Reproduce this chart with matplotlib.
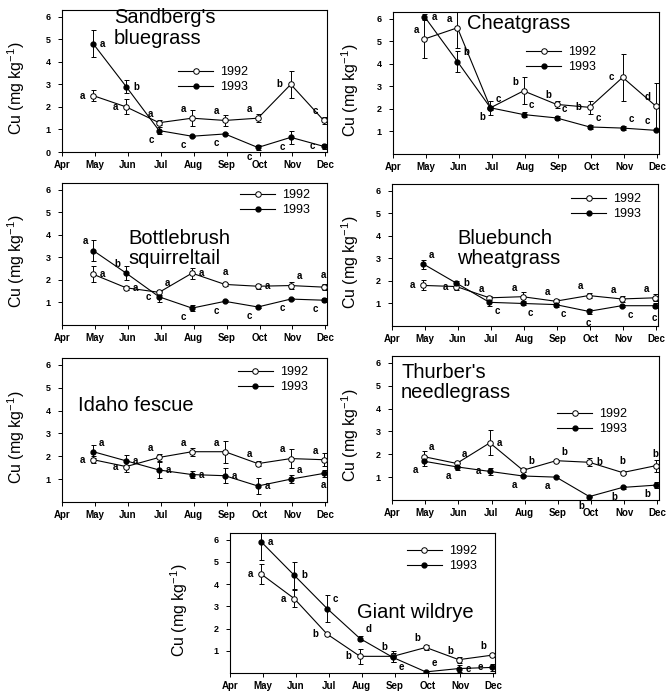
#!/usr/bin/env python3
import matplotlib

matplotlib.use("Agg")
import matplotlib.pyplot as plt
from matplotlib.lines import Line2D

W, H = 668, 693

MONTH_LABELS = ["Apr", "May", "Jun", "Jul", "Aug", "Sep", "Oct", "Nov", "Dec"]
MONTH_TICKS = [4, 5, 6, 7, 8, 9, 10, 11, 12]
SAMPLE_X = [4.95, 5.95, 6.95, 7.95, 8.95, 9.95, 10.95, 11.95]

# Sandberg's bluegrass
SAND_92 = [2.5, 2.0, 1.3, 1.5, 1.4, 1.5, 3.0, 1.4]
SAND_92_ERR = [0.23, 0.33, 0.1, 0.35, 0.23, 0.18, 0.6, 0.15]
SAND_93 = [4.8, 2.9, 0.95, 0.7, 0.8, 0.2, 0.65, 0.25]
SAND_93_ERR = [0.6, 0.28, 0.15, 0.03, 0.03, 0.1, 0.3, 0.1]
SAND_92_LET = ["a", "a", "a", "a", "a", "a", "b", "c"]
SAND_93_LET = ["a", "b", "c", "c", "c", "c", "c", "c"]

# Cheatgrass
CHEAT_92 = [5.1, 5.6, 2.05, 2.8, 2.2, 2.07, 3.4, 2.13]
CHEAT_92_ERR = [0.85, 0.9, 0.3, 0.6, 0.15, 0.28, 1.03, 1.03]
CHEAT_93 = [6.1, 4.1, 2.05, 1.75, 1.6, 1.2, 1.15, 1.05]
CHEAT_93_ERR = [0.12, 0.45, 0.1, 0.12, 0.08, 0.1, 0.1, 0.05]
CHEAT_92_LET = ["a", "a", "b", "b", "b", "b", "c", "d"]
CHEAT_93_LET = ["a", "b", "c", "c", "c", "c", "c", "c"]

# Bottlebrush squirreltail
BOTTLE_92 = [2.25, 1.65, 1.45, 2.3, 1.8, 1.72, 1.75, 1.68]
BOTTLE_92_ERR = [0.35, 0.08, 0.12, 0.25, 0.05, 0.12, 0.15, 0.12]
BOTTLE_93 = [3.3, 2.3, 1.25, 0.75, 1.05, 0.8, 1.15, 1.1]
BOTTLE_93_ERR = [0.45, 0.3, 0.25, 0.12, 0.05, 0.05, 0.05, 0.1]
BOTTLE_92_LET = ["a", "a", "a", "a", "a", "a", "a", "a"]
BOTTLE_93_LET = ["a", "b", "c", "c", "c", "c", "c", "c"]

# Bluebunch wheatgrass
BLUE_92 = [1.8, 1.75, 1.25, 1.3, 1.1, 1.35, 1.2, 1.25]
BLUE_92_ERR = [0.22, 0.15, 0.1, 0.2, 0.12, 0.12, 0.15, 0.15]
BLUE_93 = [2.75, 1.9, 1.05, 1.0, 0.95, 0.65, 0.9, 0.9]
BLUE_93_ERR = [0.2, 0.08, 0.18, 0.05, 0.1, 0.1, 0.05, 0.1]
BLUE_92_LET = ["a", "a", "a", "a", "a", "a", "a", "a"]
BLUE_93_LET = ["a", "b", "c", "c", "c", "c", "c", "c"]

# Idaho fescue
IDAHO_92 = [1.85, 1.55, 1.95, 2.2, 2.2, 1.68, 1.9, 1.85]
IDAHO_92_ERR = [0.15, 0.25, 0.15, 0.17, 0.48, 0.1, 0.42, 0.28]
IDAHO_93 = [2.2, 1.8, 1.4, 1.2, 1.15, 0.7, 1.0, 1.25]
IDAHO_93_ERR = [0.28, 0.25, 0.35, 0.15, 0.33, 0.35, 0.18, 0.15]
IDAHO_92_LET = ["a", "a", "a", "a", "a", "a", "a", "a"]
IDAHO_93_LET = ["a", "a", "a", "a", "a", "a", "a", "a"]

# Thurber's needlegrass
THUR_92 = [1.9, 1.6, 2.5, 1.3, 1.72, 1.65, 1.2, 1.5]
THUR_92_ERR = [0.25, 0.1, 0.55, 0.08, 0.05, 0.17, 0.05, 0.27]
THUR_93 = [1.7, 1.45, 1.25, 1.05, 1.0, 0.15, 0.55, 0.65]
THUR_93_ERR = [0.22, 0.15, 0.15, 0.05, 0.05, 0.03, 0.08, 0.13]
THUR_92_LET = ["a", "a", "a", "b", "b", "b", "b", "b"]
THUR_93_LET = ["a", "a", "a", "a", "a", "b", "b", "b"]

# Giant wildrye
GIANT_92 = [4.45, 3.35, 1.75, 0.75, 0.75, 1.15, 0.6, 0.8]
GIANT_92_ERR = [0.45, 0.38, 0.07, 0.35, 0.25, 0.13, 0.13, 0.05]
GIANT_93 = [5.9, 4.4, 2.9, 1.55, 0.7, 0.05, 0.2, 0.25]
GIANT_93_ERR = [0.8, 0.6, 0.6, 0.13, 0.2, 0.03, 0.15, 0.15]
GIANT_92_LET = ["a", "a", "b", "b", "b", "b", "b", "b"]
GIANT_93_LET = ["a", "b", "c", "d", "e", "e", "e", "e"]

# letter placement codes around each point (layout only)
OFFSETS = {
    "l": (-6, 0, "right", "center"),
    "r": (5, 0, "left", "center"),
    "a": (0, 5, "center", "bottom"),
    "b": (0, -5, "center", "top"),
    "ul": (-4, 3, "right", "bottom"),
    "ur": (4, 3, "left", "bottom"),
    "ll": (-4, -3, "right", "top"),
    "lr": (4, -3, "left", "top"),
}

PANELS = [
    dict(title="Sandberg's\nbluegrass", d92=SAND_92, e92=SAND_92_ERR, d93=SAND_93, e93=SAND_93_ERR,
         l92=SAND_92_LET, l93=SAND_93_LET, rect=(62, 10, 327, 152), zero=True,
         tpos=(114, 8), lpos=(178, 66), ylab=27,
         p92=["l", "l", "ul", "ul", "ul", "ul", "l", "ul"],
         p93=["r", "r", "ll", "ll", "ll", "ll", "ll", "l"]),
    dict(title="Cheatgrass", d92=CHEAT_92, e92=CHEAT_92_ERR, d93=CHEAT_93, e93=CHEAT_93_ERR,
         l92=CHEAT_92_LET, l93=CHEAT_93_LET, rect=(393, 12, 659, 154), zero=False,
         tpos=(467, 14), lpos=(526, 46), ylab=361,
         p92=["ul", "ul", "ll", "ul", "ul", "l", "l", "ul"],
         p93=["r", "ur", "ur", "ur", "ur", "ur", "ur", "ul"]),
    dict(title="Bottlebrush\nsquirreltail", d92=BOTTLE_92, e92=BOTTLE_92_ERR, d93=BOTTLE_93,
         e93=BOTTLE_93_ERR, l92=BOTTLE_92_LET, l93=BOTTLE_93_LET, rect=(62, 183, 327, 325),
         zero=False, tpos=(128, 229), lpos=(240, 189), ylab=27,
         p92=["r", "r", "ur", "r", "a", "r", "ur", "a"],
         p93=["ul", "ul", "l", "ll", "ll", "ll", "ll", "ll"]),
    dict(title="Bluebunch\nwheatgrass", d92=BLUE_92, e92=BLUE_92_ERR, d93=BLUE_93, e93=BLUE_93_ERR,
         l92=BLUE_92_LET, l93=BLUE_93_LET, rect=(392, 184, 658, 326), zero=False,
         tpos=(457, 229), lpos=(571, 193), ylab=361,
         p92=["l", "l", "ul", "ul", "ul", "ul", "ul", "ul"],
         p93=["ur", "r", "lr", "lr", "lr", "b", "lr", "b"]),
    dict(title="Idaho fescue", d92=IDAHO_92, e92=IDAHO_92_ERR, d93=IDAHO_93, e93=IDAHO_93_ERR,
         l92=IDAHO_92_LET, l93=IDAHO_93_LET, rect=(62, 358, 327, 502), zero=False,
         tpos=(78, 396), lpos=(238, 366), ylab=27,
         p92=["l", "l", "ul", "ul", "ul", "ul", "ul", "ul"],
         p93=["ur", "r", "r", "r", "r", "r", "ur", "b"]),
    dict(title="Thurber's\nneedlegrass", d92=THUR_92, e92=THUR_92_ERR, d93=THUR_93, e93=THUR_93_ERR,
         l92=THUR_92_LET, l93=THUR_93_LET, rect=(392, 356, 659, 500), zero=False,
         tpos=(401, 363), lpos=(557, 408), ylab=361,
         p92=["ur", "ur", "r", "ur", "ur", "r", "a", "a"],
         p93=["ll", "ll", "l", "ll", "ll", "ll", "ll", "ll"]),
    dict(title="Giant wildrye", d92=GIANT_92, e92=GIANT_92_ERR, d93=GIANT_93, e93=GIANT_93_ERR,
         l92=GIANT_92_LET, l93=GIANT_93_LET, rect=(230, 533, 495, 673), zero=False,
         tpos=(357, 603), lpos=(407, 545), ylab=190,
         p92=["l", "l", "l", "l", "ul", "ul", "ul", "ul"],
         p93=["r", "r", "ur", "ur", "lr", "ur", "r", "l"]),
]


def put_letters(ax, values, letters, codes):
    for x, y, s, c in zip(SAMPLE_X, values, letters, codes):
        dx, dy, ha, va = OFFSETS[c]
        ax.annotate(s, (x, y), xytext=(dx, dy), textcoords="offset points",
                    ha=ha, va=va, fontsize=7, fontweight="bold")


def draw_panel(fig, p):
    l, t, r, b = p["rect"]
    ax = fig.add_axes([l / W, 1 - b / H, (r - l) / W, (b - t) / H])

    ax.errorbar(SAMPLE_X, p["d92"], yerr=p["e92"], color="black", lw=0.8, elinewidth=0.7,
                capsize=1.8, capthick=0.7, marker="o", ms=4, mfc="white", mec="black",
                mew=0.7, zorder=3)
    ax.errorbar(SAMPLE_X, p["d93"], yerr=p["e93"], color="black", lw=0.8, elinewidth=0.7,
                capsize=1.8, capthick=0.7, marker="o", ms=3.5, mfc="black", mec="black",
                zorder=3)

    put_letters(ax, p["d92"], p["l92"], p["p92"])
    put_letters(ax, p["d93"], p["l93"], p["p93"])

    ax.set_xlim(4, 12.05)
    ax.set_ylim(0, 6.3)
    ax.set_xticks(MONTH_TICKS)
    ax.set_xticklabels(MONTH_LABELS, fontsize=7, fontweight="bold")
    yt = [0, 1, 2, 3, 4, 5, 6] if p["zero"] else [1, 2, 3, 4, 5, 6]
    ax.set_yticks(yt)
    ax.set_yticklabels([str(v) for v in yt], fontsize=6.5, fontweight="bold")
    ax.tick_params(direction="out", length=3, width=0.7, pad=5)
    ax.tick_params(axis="x", pad=3)
    for sp in ax.spines.values():
        sp.set_linewidth(0.8)

    ax.set_ylabel("Cu (mg kg$^{-1}$)", fontsize=11.5)
    ax.yaxis.set_label_coords((p["ylab"] - l) / (r - l), 0.45)

    tx, ty = p["tpos"]
    fig.text(tx / W, 1 - ty / H, p["title"], fontsize=14.5, ha="left", va="top",
             linespacing=1.1)

    handles = [
        Line2D([], [], color="black", lw=0.8, marker="o", ms=4, mfc="white", mec="black",
               mew=0.7),
        Line2D([], [], color="black", lw=0.8, marker="o", ms=3.5, mfc="black", mec="black"),
    ]
    lx, ly = p["lpos"]
    ax.legend(handles, ["1992", "1993"], loc="upper left", bbox_to_anchor=(lx / W, 1 - ly / H),
              bbox_transform=fig.transFigure, frameon=False, fontsize=9,
              handlelength=2.8, handletextpad=0.6, labelspacing=0.25,
              borderpad=0, borderaxespad=0, numpoints=1)


def main() -> None:
    plt.rcParams["font.family"] = ["Liberation Sans", "DejaVu Sans"]
    plt.rcParams["mathtext.fontset"] = "custom"
    plt.rcParams["mathtext.rm"] = "Liberation Sans"
    plt.rcParams["mathtext.it"] = "Liberation Sans:italic"

    fig = plt.figure(figsize=(W / 100, H / 100), dpi=100)
    for p in PANELS:
        draw_panel(fig, p)
    fig.savefig("out.png", dpi=100)
    plt.close(fig)


if __name__ == "__main__":
    main()
